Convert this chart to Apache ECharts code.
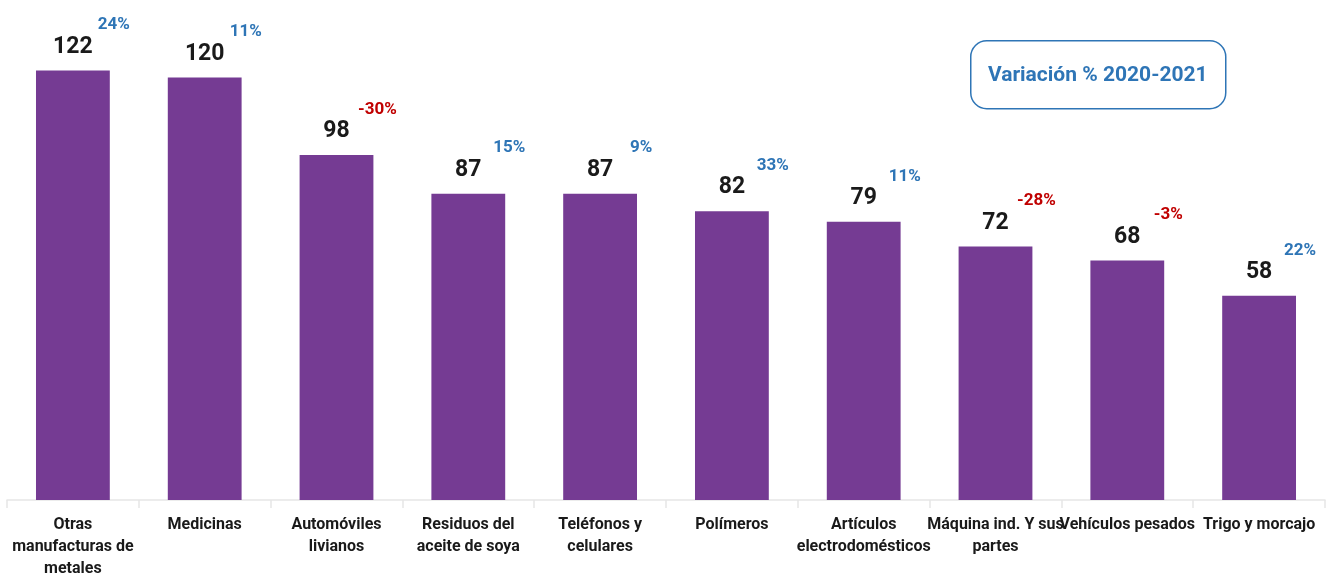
<!DOCTYPE html>
<html>
<head>
<meta charset="utf-8">
<script src="https://cdn.jsdelivr.net/npm/echarts@6/dist/echarts.min.js"></script>
<style>
  html, body { margin: 0; padding: 0; background: #fff; }
  #chart { width: 1336px; height: 583px; }
</style>
</head>
<body>
<div id="chart"></div>
<script>
  // productos (categorias del eje x)
  var categories = [
    'Otras\nmanufacturas de\nmetales',
    'Medicinas',
    'Automóviles\nlivianos',
    'Residuos del\naceite de soya',
    'Teléfonos y\ncelulares',
    'Polímeros',
    'Artículos\nelectrodomésticos',
    'Máquina ind. Y sus\npartes',
    'Vehículos pesados',
    'Trigo y morcajo'
  ];
  // valores
  var values = [122, 120, 98, 87, 87, 82, 79, 72, 68, 58];
  // variacion % 2020-2021
  var variacion = [24, 11, -30, 15, 9, 33, 11, -28, -3, 22];
  var legendText = 'Variación % 2020-2021';

  var font = 'Roboto, sans-serif';
  var chart = echarts.init(document.getElementById('chart'));

  var option = {
    animation: false,
    grid: { left: 7, right: 11, top: 7, bottom: 83 },
    xAxis: {
      type: 'category',
      data: categories,
      axisLine: { lineStyle: { color: '#e6e6e6', width: 1.5 } },
      axisTick: { show: true, length: 8, lineStyle: { color: '#e6e6e6', width: 1.5 } },
      axisLabel: {
        interval: 0,
        margin: 14,
        color: '#1a1a1a',
        fontFamily: font,
        fontWeight: 'bold',
        fontSize: 16,
        lineHeight: 22
      }
    },
    yAxis: {
      type: 'value',
      min: 0,
      max: 140,
      show: false,
      splitLine: { show: false }
    },
    series: [
      {
        type: 'bar',
        data: values,
        barWidth: '56%',
        itemStyle: { color: '#753b93' },
        label: {
          show: true,
          position: 'top',
          distance: 12,
          color: '#1a1a1a',
          fontFamily: font,
          fontWeight: 'bold',
          fontSize: 23
        }
      },
      {
        type: 'scatter',
        symbolSize: 0,
        silent: true,
        itemStyle: { opacity: 1 },
        data: values.map(function (v, i) {
          return {
            value: v,
            label: { color: variacion[i] < 0 ? '#c00000' : '#2e75b6' }
          };
        }),
        label: {
          show: true,
          position: 'top',
          offset: [41, -32],
          fontFamily: font,
          fontWeight: 'bold',
          fontSize: 17,
          opacity: 1
        ,
          formatter: function (p) { return variacion[p.dataIndex] + '%'; }
        }
      }
    ],
    graphic: [
      {
        type: 'group',
        left: 970,
        top: 40,
        children: [
          {
            type: 'rect',
            shape: { x: 0, y: 0, width: 255, height: 68, r: 16 },
            style: { fill: '#fff', stroke: '#2e75b6', lineWidth: 1.5 }
          },
          {
            type: 'text',
            x: 127,
            y: 35,
            style: {
              text: legendText,
              fill: '#2e75b6',
              font: 'bold 21px ' + font,
              textAlign: 'center',
              textVerticalAlign: 'middle'
            }
          }
        ]
      }
    ]
  };

  chart.setOption(option);
</script>
</body>
</html>
